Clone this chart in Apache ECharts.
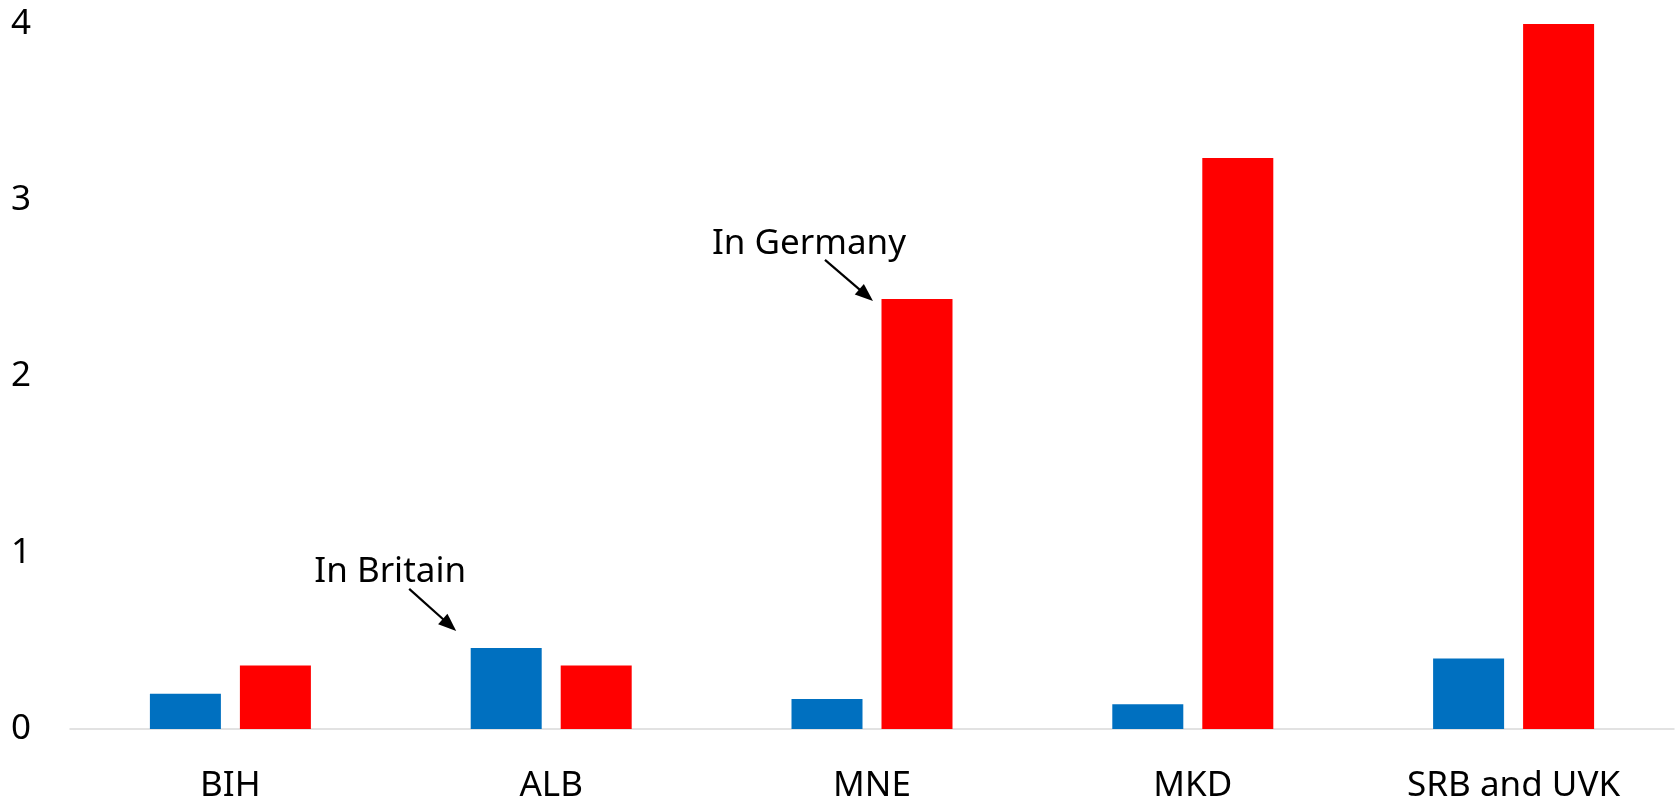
<!DOCTYPE html>
<html>
<head>
<meta charset="utf-8">
<script src="https://cdn.jsdelivr.net/npm/echarts@6/dist/echarts.min.js"></script>
<style>
  html, body { margin: 0; padding: 0; background: #fff; }
  #chart { width: 1675px; height: 799px; }
</style>
</head>
<body>
<div id="chart"></div>
<script>
// Country groups along the x axis
const categories = ['BIH', 'ALB', 'MNE', 'MKD', 'SRB and UVK'];
// First series (blue) and second series (red)
const blueValues = [0.20, 0.46, 0.17, 0.14, 0.40];
const redValues = [0.36, 0.36, 2.44, 3.24, 4.00];
// Value axis ticks
const yTicks = [0, 1, 2, 3, 4];

const FONT = '"Noto Sans", "DejaVu Sans", sans-serif';
const FONT_SIZE = 35;
const BAR_W = 71;
const BAR_GAP_PX = 19;

const chart = echarts.init(document.getElementById('chart'), null, { renderer: 'canvas' });

chart.setOption({
  animation: false,
  backgroundColor: '#ffffff',
  grid: { left: 70, right: 1, top: 24, bottom: 70, containLabel: false, outerBoundsMode: 'none' },
  xAxis: {
    type: 'category',
    data: categories,
    axisLine: { show: true, lineStyle: { color: '#d9d9d9', width: 1.5 } },
    axisTick: { show: false },
    axisLabel: { color: '#000', fontSize: FONT_SIZE, fontFamily: FONT, margin: 40, interval: 0 },
    splitLine: { show: false }
  },
  yAxis: {
    type: 'value',
    min: yTicks[0],
    max: yTicks[yTicks.length - 1],
    interval: 1,
    axisLine: { show: false },
    axisTick: { show: false },
    splitLine: { show: false },
    axisLabel: { color: '#000', fontSize: FONT_SIZE, fontFamily: FONT, margin: 39 }
  },
  series: [
    {
      type: 'bar',
      data: blueValues,
      barWidth: BAR_W,
      barGap: (BAR_GAP_PX / BAR_W * 100) + '%',
      itemStyle: { color: '#0070c0' }
    },
    {
      type: 'bar',
      data: redValues,
      barWidth: BAR_W,
      barGap: (BAR_GAP_PX / BAR_W * 100) + '%',
      itemStyle: { color: '#ff0000' }
    }
  ]
});

// Callout text with an arrow pointing at a bar's top edge
function callout(text, catIndex, value, side, off) {
  const p = chart.convertToPixel({ xAxisIndex: 0, yAxisIndex: 0 }, [catIndex, value]);
  // side: -1 for the left bar of the pair, +1 for the right bar
  const barCenter = p[0] + side * (BAR_W + BAR_GAP_PX) / 2;
  const tipX = barCenter + off.tipX;
  const tipY = p[1] + off.tipY;
  const startX = tipX + off.startX;
  const startY = tipY + off.startY;
  const ang = Math.atan2(tipY - startY, tipX - startX);
  const headLen = 18, headHalf = 7;
  const baseX = tipX - headLen * Math.cos(ang);
  const baseY = tipY - headLen * Math.sin(ang);
  const nx = -Math.sin(ang), ny = Math.cos(ang);
  return [
    {
      type: 'text',
      x: tipX + off.textX,
      y: tipY + off.textY,
      style: { text: text, fill: '#000', font: FONT_SIZE + 'px ' + FONT, textAlign: 'center', textVerticalAlign: 'middle' }
    },
    {
      type: 'line',
      shape: { x1: startX, y1: startY, x2: baseX + 2 * Math.cos(ang), y2: baseY + 2 * Math.sin(ang) },
      style: { stroke: '#000', lineWidth: 2.2 }
    },
    {
      type: 'polygon',
      shape: { points: [[tipX, tipY], [baseX + nx * headHalf, baseY + ny * headHalf], [baseX - nx * headHalf, baseY - ny * headHalf]] },
      style: { fill: '#000' }
    }
  ];
}

const britain = callout('In Britain', 1, blueValues[1], -1,
  { tipX: -50, tipY: -17, startX: -47, startY: -42, textX: -66, textY: -59 });
const germany = callout('In Germany', 2, redValues[2], 1,
  { tipX: -44, tipY: 2, startX: -48, startY: -41, textX: -64, textY: -57 });

chart.setOption({ graphic: { elements: britain.concat(germany) } });
</script>
</body>
</html>
